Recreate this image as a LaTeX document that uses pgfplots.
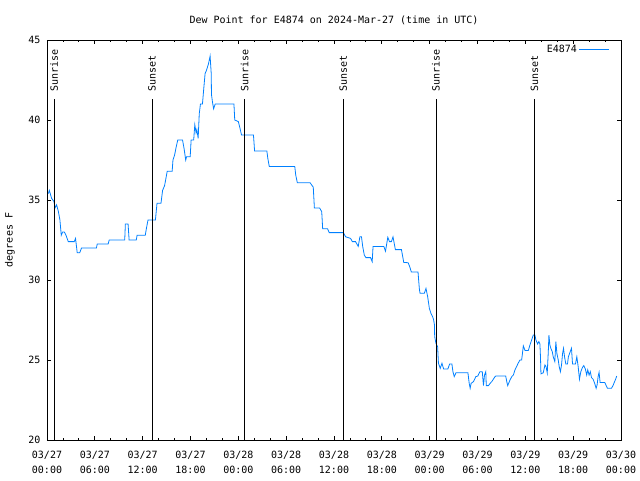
\documentclass[border=0pt]{standalone}
\usepackage{fontspec}
\setmainfont{DejaVu Sans Mono}
\usepackage{pgfplots}
\pgfplotsset{compat=1.18}
\definecolor{dpblue}{RGB}{0,128,255}
\newcommand{\gfont}{\fontsize{10}{15}\selectfont}
\begin{document}
\begin{tikzpicture}
\useasboundingbox (-47pt,-40pt) rectangle (593pt,440pt);
\begin{axis}[
  scale only axis, width=574pt, height=400pt,
  xmin=0, xmax=72, ymin=20, ymax=45,
  xtick={0,6,...,72}, minor x tick num=2,
  xticklabels={{03/27\\00:00},{03/27\\06:00},{03/27\\12:00},{03/27\\18:00},{03/28\\00:00},{03/28\\06:00},{03/28\\12:00},{03/28\\18:00},{03/29\\00:00},{03/29\\06:00},{03/29\\12:00},{03/29\\18:00},{03/30\\00:00}},
  ytick={20,25,...,45},
  xticklabel style={align=center, font=\gfont, yshift=-8pt},
  yticklabel style={font=\gfont, xshift=-3pt},
  /pgf/number format/assume math mode=true,
  tick align=inside, major tick length=4pt, minor tick length=2pt,
  every tick/.style={black, line width=0.8pt},
  axis line style={line width=0.8pt},
  title={Dew Point for E4874 on 2024-Mar-27 (time in UTC)},
  title style={at={(axis description cs:0.5,1)}, anchor=center, yshift=14pt, font=\gfont},
  ylabel={degrees F},
  ylabel style={at={(axis description cs:-0.0645,0.5)}, anchor=center, font=\gfont},
  legend style={at={(axis description cs:1,1)}, anchor=north east, draw=none, fill=none, font=\gfont, xshift=-8pt, yshift=-1pt},
  legend plot pos=right,
  legend image code/.code={\draw[#1] (0pt,0pt) -- (30pt,0pt);},
]
\addplot[dpblue, line width=0.8pt] coordinates {
(0.17,35.4) (0.29,35.6) (0.58,35.1) (0.88,34.9) (1.0,34.5) (1.2,34.7) (1.42,34.3) (1.62,33.75) (1.79,32.8) (1.96,33.0) (2.17,33.0) (2.38,32.8) (2.67,32.4) (3.42,32.4) (3.58,32.6) (3.79,31.7) (4.1,31.7) (4.33,32.0) (6.2,32.0) (6.3,32.25) (7.67,32.25) (7.8,32.5) (9.75,32.5) (9.83,33.5) (10.17,33.5) (10.3,32.5) (11.2,32.5) (11.3,32.8) (12.33,32.8) (12.46,33.2) (12.67,33.75) (13.6,33.75) (13.8,34.8) (14.3,34.8) (14.5,35.6) (14.75,35.9) (14.88,36.25) (15.08,36.8) (15.7,36.8) (15.8,37.5) (16.0,37.8) (16.2,38.3) (16.4,38.75) (17.0,38.75) (17.2,38.2) (17.4,37.5) (17.5,37.7) (17.96,37.7) (18.08,38.75) (18.4,38.75) (18.54,39.7) (18.7,39.2) (18.8,39.4) (18.96,38.85) (19.1,40.4) (19.25,41.0) (19.5,41.0) (19.67,42.0) (19.83,42.9) (20.0,43.1) (20.25,43.5) (20.4,43.85) (20.46,44.0) (20.6,42.9) (20.63,41.6) (20.75,41.15) (20.9,40.7) (21.1,41.0) (23.45,41.0) (23.55,40.0) (24.0,39.9) (24.2,39.5) (24.4,39.06) (25.9,39.06) (26.04,38.06) (27.58,38.06) (27.7,37.6) (27.88,37.1) (31.08,37.1) (31.2,36.56) (31.4,36.08) (33.0,36.08) (33.4,35.8) (33.54,34.5) (34.2,34.5) (34.46,34.27) (34.58,33.2) (35.2,33.2) (35.4,32.96) (37.17,32.96) (37.46,32.7) (38.08,32.6) (38.3,32.4) (38.7,32.4) (39.04,32.1) (39.25,32.7) (39.45,32.7) (39.6,32.1) (39.8,31.56) (40.0,31.4) (40.58,31.4) (40.79,31.15) (40.9,32.1) (42.25,32.1) (42.46,31.8) (42.75,32.67) (42.96,32.4) (43.2,32.4) (43.4,32.7) (43.7,31.9) (44.46,31.9) (44.75,31.1) (45.3,31.08) (45.5,30.83) (45.7,30.5) (46.54,30.5) (46.7,29.48) (46.79,29.17) (47.33,29.17) (47.54,29.48) (47.75,28.96) (47.96,28.23) (48.17,27.9) (48.38,27.7) (48.5,27.5) (48.6,27.2) (48.63,26.46) (48.79,26.04) (49.0,25.83) (49.1,24.8) (49.33,24.48) (49.54,24.8) (49.75,24.44) (50.29,24.44) (50.5,24.75) (50.79,24.75) (50.92,24.27) (51.08,23.96) (51.3,24.2) (52.8,24.2) (52.96,23.54) (53.08,23.23) (53.2,23.54) (53.5,23.65) (53.79,23.96) (54.04,24.0) (54.3,24.27) (54.6,24.27) (54.75,23.4) (54.88,24.06) (55.04,24.27) (55.1,23.4) (55.38,23.4) (55.58,23.54) (55.79,23.65) (56.2,23.96) (56.3,24.0) (57.54,24.0) (57.67,23.65) (57.79,23.4) (58.08,23.75) (58.3,23.96) (58.5,24.06) (58.7,24.38) (58.9,24.58) (59.1,24.8) (59.33,25.0) (59.54,25.0) (59.75,25.88) (59.96,25.6) (60.38,25.6) (60.58,25.94) (60.79,26.25) (61.0,26.56) (61.2,26.56) (61.33,26.25) (61.54,26.0) (61.7,26.15) (61.83,26.0) (61.9,25.2) (61.96,24.13) (62.25,24.2) (62.46,24.69) (62.6,24.58) (62.75,24.2) (62.88,25.52) (62.96,26.56) (63.08,25.94) (63.2,25.73) (63.38,25.52) (63.5,25.2) (63.7,24.9) (63.83,26.15) (63.96,25.4) (64.13,25.0) (64.25,24.58) (64.4,24.27) (64.54,24.69) (64.67,25.4) (64.79,25.73) (64.92,25.2) (65.08,24.75) (65.29,24.75) (65.4,25.2) (65.63,25.52) (65.79,25.73) (65.92,24.75) (66.29,24.75) (66.46,25.2) (66.63,24.58) (66.79,23.8) (66.96,24.27) (67.17,24.54) (67.33,24.65) (67.54,24.42) (67.7,24.06) (67.83,24.38) (68.0,24.06) (68.15,24.27) (68.3,23.9) (68.5,23.8) (68.7,23.54) (68.88,23.23) (69.0,23.44) (69.13,23.96) (69.25,24.23) (69.38,23.6) (69.96,23.6) (70.3,23.23) (70.8,23.23) (71.0,23.4) (71.2,23.65) (71.33,23.8) (71.46,24.0)
};
\addlegendentry{E4874}
\addplot[black, line width=0.8pt, forget plot] coordinates {(0.91,20) (0.91,41.31)};
\addplot[black, line width=0.8pt, forget plot] coordinates {(13.16,20) (13.16,41.31)};
\addplot[black, line width=0.8pt, forget plot] coordinates {(24.79,20) (24.79,41.31)};
\addplot[black, line width=0.8pt, forget plot] coordinates {(37.16,20) (37.16,41.31)};
\addplot[black, line width=0.8pt, forget plot] coordinates {(48.79,20) (48.79,41.31)};
\addplot[black, line width=0.8pt, forget plot] coordinates {(61.16,20) (61.16,41.31)};
\node[rotate=90, anchor=west, font=\gfont, inner sep=0pt] at (axis cs:0.91,41.75) {Sunrise};
\node[rotate=90, anchor=west, font=\gfont, inner sep=0pt] at (axis cs:13.16,41.75) {Sunset};
\node[rotate=90, anchor=west, font=\gfont, inner sep=0pt] at (axis cs:24.79,41.75) {Sunrise};
\node[rotate=90, anchor=west, font=\gfont, inner sep=0pt] at (axis cs:37.16,41.75) {Sunset};
\node[rotate=90, anchor=west, font=\gfont, inner sep=0pt] at (axis cs:48.79,41.75) {Sunrise};
\node[rotate=90, anchor=west, font=\gfont, inner sep=0pt] at (axis cs:61.16,41.75) {Sunset};
\end{axis}
\end{tikzpicture}
\end{document}
